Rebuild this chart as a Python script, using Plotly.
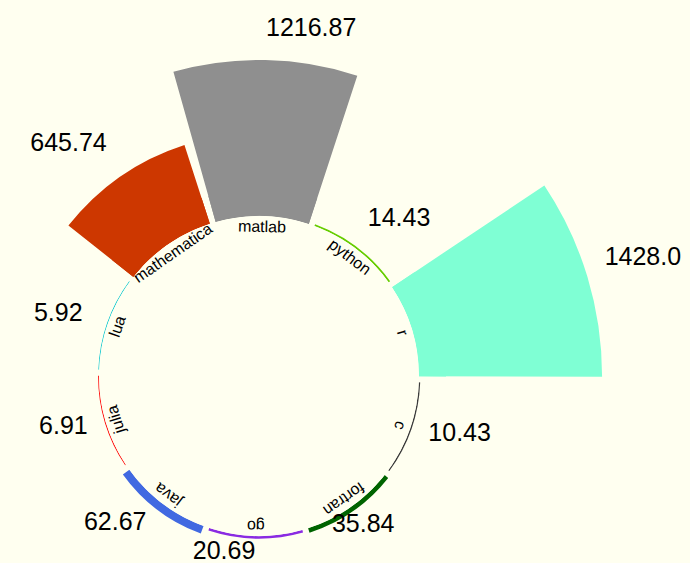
import plotly.graph_objects as go
import math

# ---- data ----
languages = ["c", "fortran", "go", "java", "julia", "lua",
             "mathematica", "matlab", "python", "r"]
times = [10.43, 35.84, 20.69, 62.67, 6.91, 5.92, 645.74, 1216.87, 14.43, 1428.0]
value_labels = ["10.43", "35.84", "20.69", "62.67", "6.91", "5.92",
                "645.74", "1216.87", "14.43", "1428.0"]

# ---- styles ----
colors = ["#3c3c3c", "#006400", "#8a2be2", "#4169e1", "#ff0000", "#00c5cd",
          "#cd3700", "#8f8f8f", "#66cd00", "#7fffd4"]
label_positions = ["middle right", "middle center", "middle left", "middle left",
                   "middle left", "middle left", "top left", "top right",
                   "top right", "top right"]
label_gap_px = [18, 18, 14, 18, 18, 26, 24, 18, 18, 18]

# ---- layout geometry ----
W, H = 690, 563
CX, CY = 259, 376          # polar centre (px, from top-left)
R_SMALL = 187              # radius of the full-circle polar (px)
HOLE_PX = 160              # inner circle radius (px)
PX_PER_UNIT = 0.1282       # radial scale (px per unit)
ROTATION = -19.2
STEP = 360 / len(languages)
CAT_R = 150                # radius of category labels (px)
VAL_FONT = dict(size=25, color="#000000", family="Liberation Sans, Arial")
CAT_FONT = dict(size=16, color="#000000", family="Liberation Sans, Arial")


def sector_bbox(s0, s1):
    """Same bounding-box rule as plotly.js uses for polar sectors."""
    arc = s1 - s0
    a0 = s0 % 360
    a1 = a0 + arc
    c0, d0 = math.cos(math.radians(a0)), math.sin(math.radians(a0))
    c1, d1 = math.cos(math.radians(a1)), math.sin(math.radians(a1))
    if (a0 <= 90 <= a1) or (a0 > 90 and a1 >= 450):
        y1 = 1
    elif d0 <= 0 and d1 <= 0:
        y1 = 0
    else:
        y1 = max(d0, d1)
    if (a0 <= 180 <= a1) or (a0 > 180 and a1 >= 540):
        x0 = -1
    elif c0 >= 0 and c1 >= 0:
        x0 = 0
    else:
        x0 = min(c0, c1)
    if (a0 <= 270 <= a1) or (a0 > 270 and a1 >= 630):
        y0 = -1
    elif d0 >= 0 and d1 >= 0:
        y0 = 0
    else:
        y0 = min(d0, d1)
    if a1 >= 360:
        x1 = 1
    elif c0 <= 0 and c1 <= 0:
        x1 = 0
    else:
        x1 = max(c0, c1)
    return x0, y0, x1, y1


def polar_layout(radius, sector=None):
    if sector is None:
        x0, y0, x1, y1 = -1, -1, 1, 1
    else:
        x0, y0, x1, y1 = sector_bbox(*sector)
    dom = dict(x=[(CX + x0 * radius) / W, (CX + x1 * radius) / W],
               y=[1 - (CY - y0 * radius) / H, 1 - (CY - y1 * radius) / H])
    dom = {k: [min(max(v, 0.0), 1.0) for v in vals] for k, vals in dom.items()}
    d = dict(
        domain=dom,
        bgcolor="rgba(0,0,0,0)",
        hole=HOLE_PX / radius,
        bargap=0.06,
        radialaxis=dict(visible=False, range=[0, (radius - HOLE_PX) / PX_PER_UNIT]),
        angularaxis=dict(type="category", categoryarray=languages,
                         categoryorder="array", direction="clockwise",
                         rotation=ROTATION, showticklabels=False,
                         showline=False, showgrid=False, ticks=""),
    )
    if sector is not None:
        d["sector"] = list(sector)
    return d


fig = go.Figure()
layout_polars = {}

label_r = [v + g / PX_PER_UNIT for v, g in zip(times, label_gap_px)]
rmax_small = (R_SMALL - HOLE_PX) / PX_PER_UNIT
small_idx = [i for i, lr in enumerate(label_r) if lr <= rmax_small]
big_idx = [i for i, lr in enumerate(label_r) if lr > rmax_small]

# full-circle subplot: every bar (large ones get finished in their own sector)
layout_polars["polar"] = polar_layout(R_SMALL)
fig.add_trace(go.Barpolar(r=times, theta=languages, subplot="polar",
                          marker=dict(color=colors, line=dict(width=0)),
                          hoverinfo="theta+r"))
fig.add_trace(go.Scatterpolar(
    r=[label_r[i] for i in small_idx],
    theta=[languages[i] for i in small_idx],
    text=[value_labels[i] for i in small_idx],
    textposition=[label_positions[i] for i in small_idx],
    mode="text", textfont=VAL_FONT, cliponaxis=False, hoverinfo="skip",
    subplot="polar"))

# one sector subplot per long bar, so it can reach beyond the full circle
for k, i in enumerate(big_idx, start=2):
    name = f"polar{k}"
    centre = ((ROTATION - i * STEP) + 180) % 360 - 180
    radius = HOLE_PX + PX_PER_UNIT * label_r[i] + 2
    layout_polars[name] = polar_layout(radius, (centre - STEP / 2, centre + STEP / 2))
    fig.add_trace(go.Barpolar(r=times, theta=languages, subplot=name,
                              marker=dict(color=colors, line=dict(width=0)),
                              hoverinfo="theta+r"))
    fig.add_trace(go.Scatterpolar(
        r=[label_r[i]], theta=[languages[i]], text=[value_labels[i]],
        textposition=label_positions[i], mode="text", textfont=VAL_FONT,
        cliponaxis=False, hoverinfo="skip", subplot=name))

# category names, written along the inner circle
annotations = []
for i, lang in enumerate(languages):
    th = ROTATION - i * STEP
    rad = math.radians(th)
    ang = (90 - th + 180) % 360 - 180
    annotations.append(dict(
        x=(CX + CAT_R * math.cos(rad)) / W,
        y=1 - (CY - CAT_R * math.sin(rad)) / H,
        xref="paper", yref="paper", text=lang, showarrow=False,
        textangle=ang, xanchor="center", yanchor="middle", font=CAT_FONT))

fig.update_layout(
    width=W, height=H,
    margin=dict(l=0, r=0, t=0, b=0, pad=0),
    paper_bgcolor="#fffff0",
    showlegend=False,
    annotations=annotations,
    **layout_polars,
)

fig.write_html(
    "out.html",
    config={"displayModeBar": False},
    post_script="document.body.style.margin='0px';document.body.style.overflow='hidden';",
)
